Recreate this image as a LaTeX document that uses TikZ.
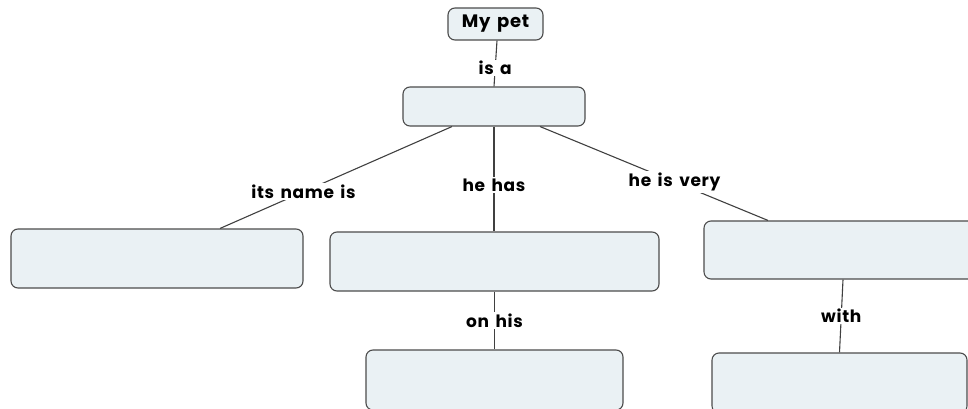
\documentclass[tikz,border=0pt]{standalone}
\usepackage{fontspec}
\setmainfont{Poppins}
\newfontfamily\lblfont[LetterSpace=4, WordSpace=1.5]{Poppins}
\begin{document}
\begin{tikzpicture}[x=1pt,y=-1pt,
  cbox/.style={draw=black!70, line width=1.1pt, fill=boxfill, rounded corners=7pt, inner sep=0pt},
  lbl/.style={fill=white, inner sep=1.5pt, font=\lblfont\fontsize{17}{20}\selectfont\bfseries},
  conn/.style={draw=black!75, line width=1.1pt}]
\definecolor{boxfill}{HTML}{EAF1F4}
\useasboundingbox (0,0) rectangle (968,409);
\node[cbox, minimum width=95pt, minimum height=32pt, font=\lblfont\fontsize{18}{21}\selectfont\bfseries] (pet) at (495.5,24) {My pet};
\node[cbox, minimum width=182pt, minimum height=39pt] (b2) at (494,106.5) {};
\node[cbox, minimum width=292pt, minimum height=59pt] (left) at (157,258.5) {};
\node[cbox, minimum width=329pt, minimum height=59pt] (mid) at (494.5,261.5) {};
\node[cbox, minimum width=278pt, minimum height=58pt] (right) at (843,250) {};
\node[cbox, minimum width=257pt, minimum height=60pt] (bmid) at (494.5,380) {};
\node[cbox, minimum width=255pt, minimum height=60pt] (bright) at (839.5,383) {};

\draw[conn] ([xshift=1.5pt]pet.south) -- (b2.north) node[lbl, pos=0.6] {is a};
\draw[conn] ([xshift=-42pt]b2.south) -- ([xshift=63pt]left.north) node[lbl, pos=0.64] {its name is};
\draw[conn] (b2.south) -- (b2.south |- mid.north) node[lbl, pos=0.56] {he has};
\draw[conn] ([xshift=46pt]b2.south) -- ([xshift=-75pt]right.north) node[lbl, pos=0.59] {he is very};
\draw[conn] (mid.south) -- (mid.south |- bmid.north) node[lbl, pos=0.5] {on his};
\draw[conn] (right.south) -- (bright.north) node[lbl, pos=0.5] {with};
\end{tikzpicture}
\end{document}
